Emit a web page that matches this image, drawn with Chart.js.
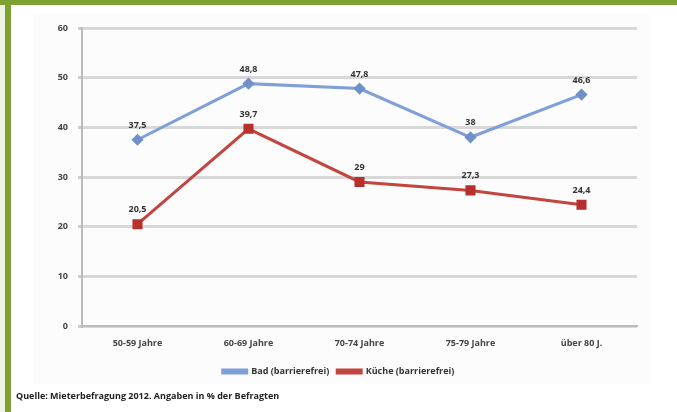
<!DOCTYPE html>
<html><head><meta charset="utf-8">
<script src="https://cdn.jsdelivr.net/npm/chart.js@4.4.1/dist/chart.umd.min.js"></script>
<style>
html,body{margin:0;padding:0;background:#fff;width:677px;height:412px;overflow:hidden;font-family:"Open Sans",sans-serif}
#strip{position:absolute;left:0;top:0;width:5px;height:412px;background:#eef2e2}
#bar{position:absolute;left:5px;top:0;width:6px;height:412px;background:#7da232}
#topbar{position:absolute;left:0;top:0;width:677px;height:5px;background:#7da232}
#box{position:absolute;left:33px;top:14px;width:617px;height:370px;background:#fcfcfc}
#wrap{position:absolute;left:0;top:0;width:677px;height:392px}
#src{position:absolute;left:16px;top:389px;font-size:9px;font-weight:bold;color:#222;letter-spacing:0px}
</style></head><body>
<div id="strip"></div><div id="bar"></div><div id="topbar"></div>
<div id="box"></div>
<div id="wrap"><canvas id="c" width="677" height="392"></canvas></div>
<div id="src">Quelle: Mieterbefragung 2012. Angaben in % der Befragten</div>
<script>
const categories = ["50-59 Jahre","60-69 Jahre","70-74 Jahre","75-79 Jahre","über 80 J."];
const badValues = [37.5, 48.8, 47.8, 38, 46.6];
const kuecheValues = [20.5, 39.7, 29, 27.3, 24.4];
const seriesNames = ["Bad (barrierefrei)", "Küche (barrierefrei)"];
const yTicks = [0,10,20,30,40,50,60];

const labelPlugin = {
  id:'pointLabels',
  afterDatasetsDraw(chart){
    const ctx = chart.ctx;
    ctx.save();
    ctx.font = 'bold 9px "Open Sans"';
    ctx.fillStyle = '#333';
    ctx.textAlign = 'center';
    ctx.textBaseline = 'bottom';
    chart.data.datasets.forEach((ds,di)=>{
      const meta = chart.getDatasetMeta(di);
      meta.data.forEach((pt,i)=>{
        const v = ds.data[i];
        const txt = String(v).replace('.',',');
        ctx.fillText(txt, pt.x, pt.y - 10);
      });
    });
    ctx.restore();
  }
};

new Chart(document.getElementById('c'), {
  type:'line',
  data:{
    labels:categories,
    datasets:[
      {label:seriesNames[0], data:badValues, borderColor:'#7f9fd8', backgroundColor:'#7f9fd8',
       borderWidth:3, pointStyle:'rectRot', pointRadius:4, pointBackgroundColor:'#7090c8', pointBorderColor:'#7090c8', tension:0},
      {label:seriesNames[1], data:kuecheValues, borderColor:'#c2453f', backgroundColor:'#c2453f',
       borderWidth:3, pointStyle:'rect', pointRadius:5, pointBackgroundColor:'#b8302c', pointBorderColor:'#b8302c', tension:0}
    ]
  },
  options:{
    responsive:false, animation:false, devicePixelRatio:1,
    layout:{padding:{left:40, right:40, top:28, bottom:6}},
    plugins:{
      legend:{position:'bottom', labels:{usePointStyle:false, boxWidth:24, boxHeight:3, font:{size:9, weight:'bold', family:'"Open Sans"'}, color:'#333', padding:8}},
      tooltip:{enabled:false}
    },
    scales:{
      x:{offset:true, grid:{display:false, drawTicks:false}, border:{color:'#bbb', width:2},
         ticks:{font:{size:9, weight:'bold', family:'"Open Sans"'}, color:'#444', padding:12},
         afterFit(s){s.height=33;}},
      y:{min:0,max:60, afterBuildTicks(s){s.ticks=yTicks.map(v=>({value:v}));},
         grid:{color:'#d8d8d8', lineWidth:3, drawTicks:true, tickLength:4, tickColor:'#ccc'},
         border:{color:'#bbb', width:2},
         ticks:{font:{size:9, weight:'bold', family:'"Open Sans"'}, color:'#444', padding:10},
         afterFit(s){s.width=42;}}
    }
  },
  plugins:[labelPlugin]
});
</script>
</body></html>
